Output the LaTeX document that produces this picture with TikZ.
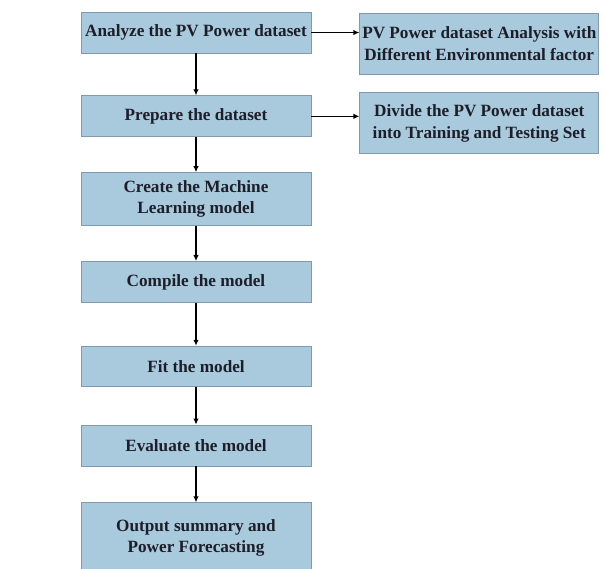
\documentclass[tikz,border=0pt]{standalone}
\usepackage{fontspec}
\setmainfont{Liberation Serif}
\usetikzlibrary{arrows.meta,positioning}
\definecolor{celeste}{HTML}{A8CADC}
\definecolor{borde}{HTML}{8199AE}
\definecolor{tinta}{HTML}{1E1E2A}

\begin{document}
\begin{tikzpicture}[x=1pt,y=-1pt,
    paso/.style={draw=borde,fill=celeste,line width=0.8pt,minimum width=230pt,minimum height=41pt,inner xsep=2pt,inner ysep=2pt,align=center,text=tinta,font=\fontsize{17.2}{21.5}\selectfont\bfseries},
    detalle/.style={paso,minimum width=239pt,minimum height=61pt},
    flecha/.style={-{Latex[length=6pt,width=5.5pt]},line width=1.4pt,black}]
    \fill[white] (0,0) rectangle (606,569);
    \useasboundingbox (0,0) rectangle (606,569);
    \node[paso] (analizar) at (196,32.5) {Analyze the PV Power dataset};
    \node[paso,below=42pt of analizar] (preparar) {Prepare the dataset};
    \node[paso,below=35pt of preparar,minimum height=53pt] (crear) {Create the Machine\\Learning model};
    \node[paso,below=35pt of crear] (compilar) {Compile the model};
    \node[paso,below=43pt of compilar,minimum height=40pt] (ajustar) {Fit the model};
    \node[paso,below=38pt of ajustar] (evaluar) {Evaluate the model};
    \node[paso,below=36pt of evaluar,minimum height=70pt] (salida) {Output summary and\\Power Forecasting};
    \node[detalle,right=48pt of analizar.north east,anchor=north west,yshift=-1pt] (analisis) {PV Power dataset Analysis with\\Different Environmental factor};
    \node[detalle,right=48pt of preparar.north east,anchor=north west,yshift=3pt] (dividir) {Divide the PV Power dataset\\into Training and Testing Set};
    \draw[flecha] (analizar) -- (preparar); \draw[flecha] (preparar) -- (crear); \draw[flecha] (crear) -- (compilar);
    \draw[flecha] (compilar) -- (ajustar); \draw[flecha] (ajustar) -- (evaluar); \draw[flecha] (evaluar) -- (salida);
    \draw[flecha] (analizar.east) -- (analizar.east -| analisis.west);
    \draw[flecha] (preparar.east) -- (preparar.east -| dividir.west);
  \end{tikzpicture}
\end{document}
